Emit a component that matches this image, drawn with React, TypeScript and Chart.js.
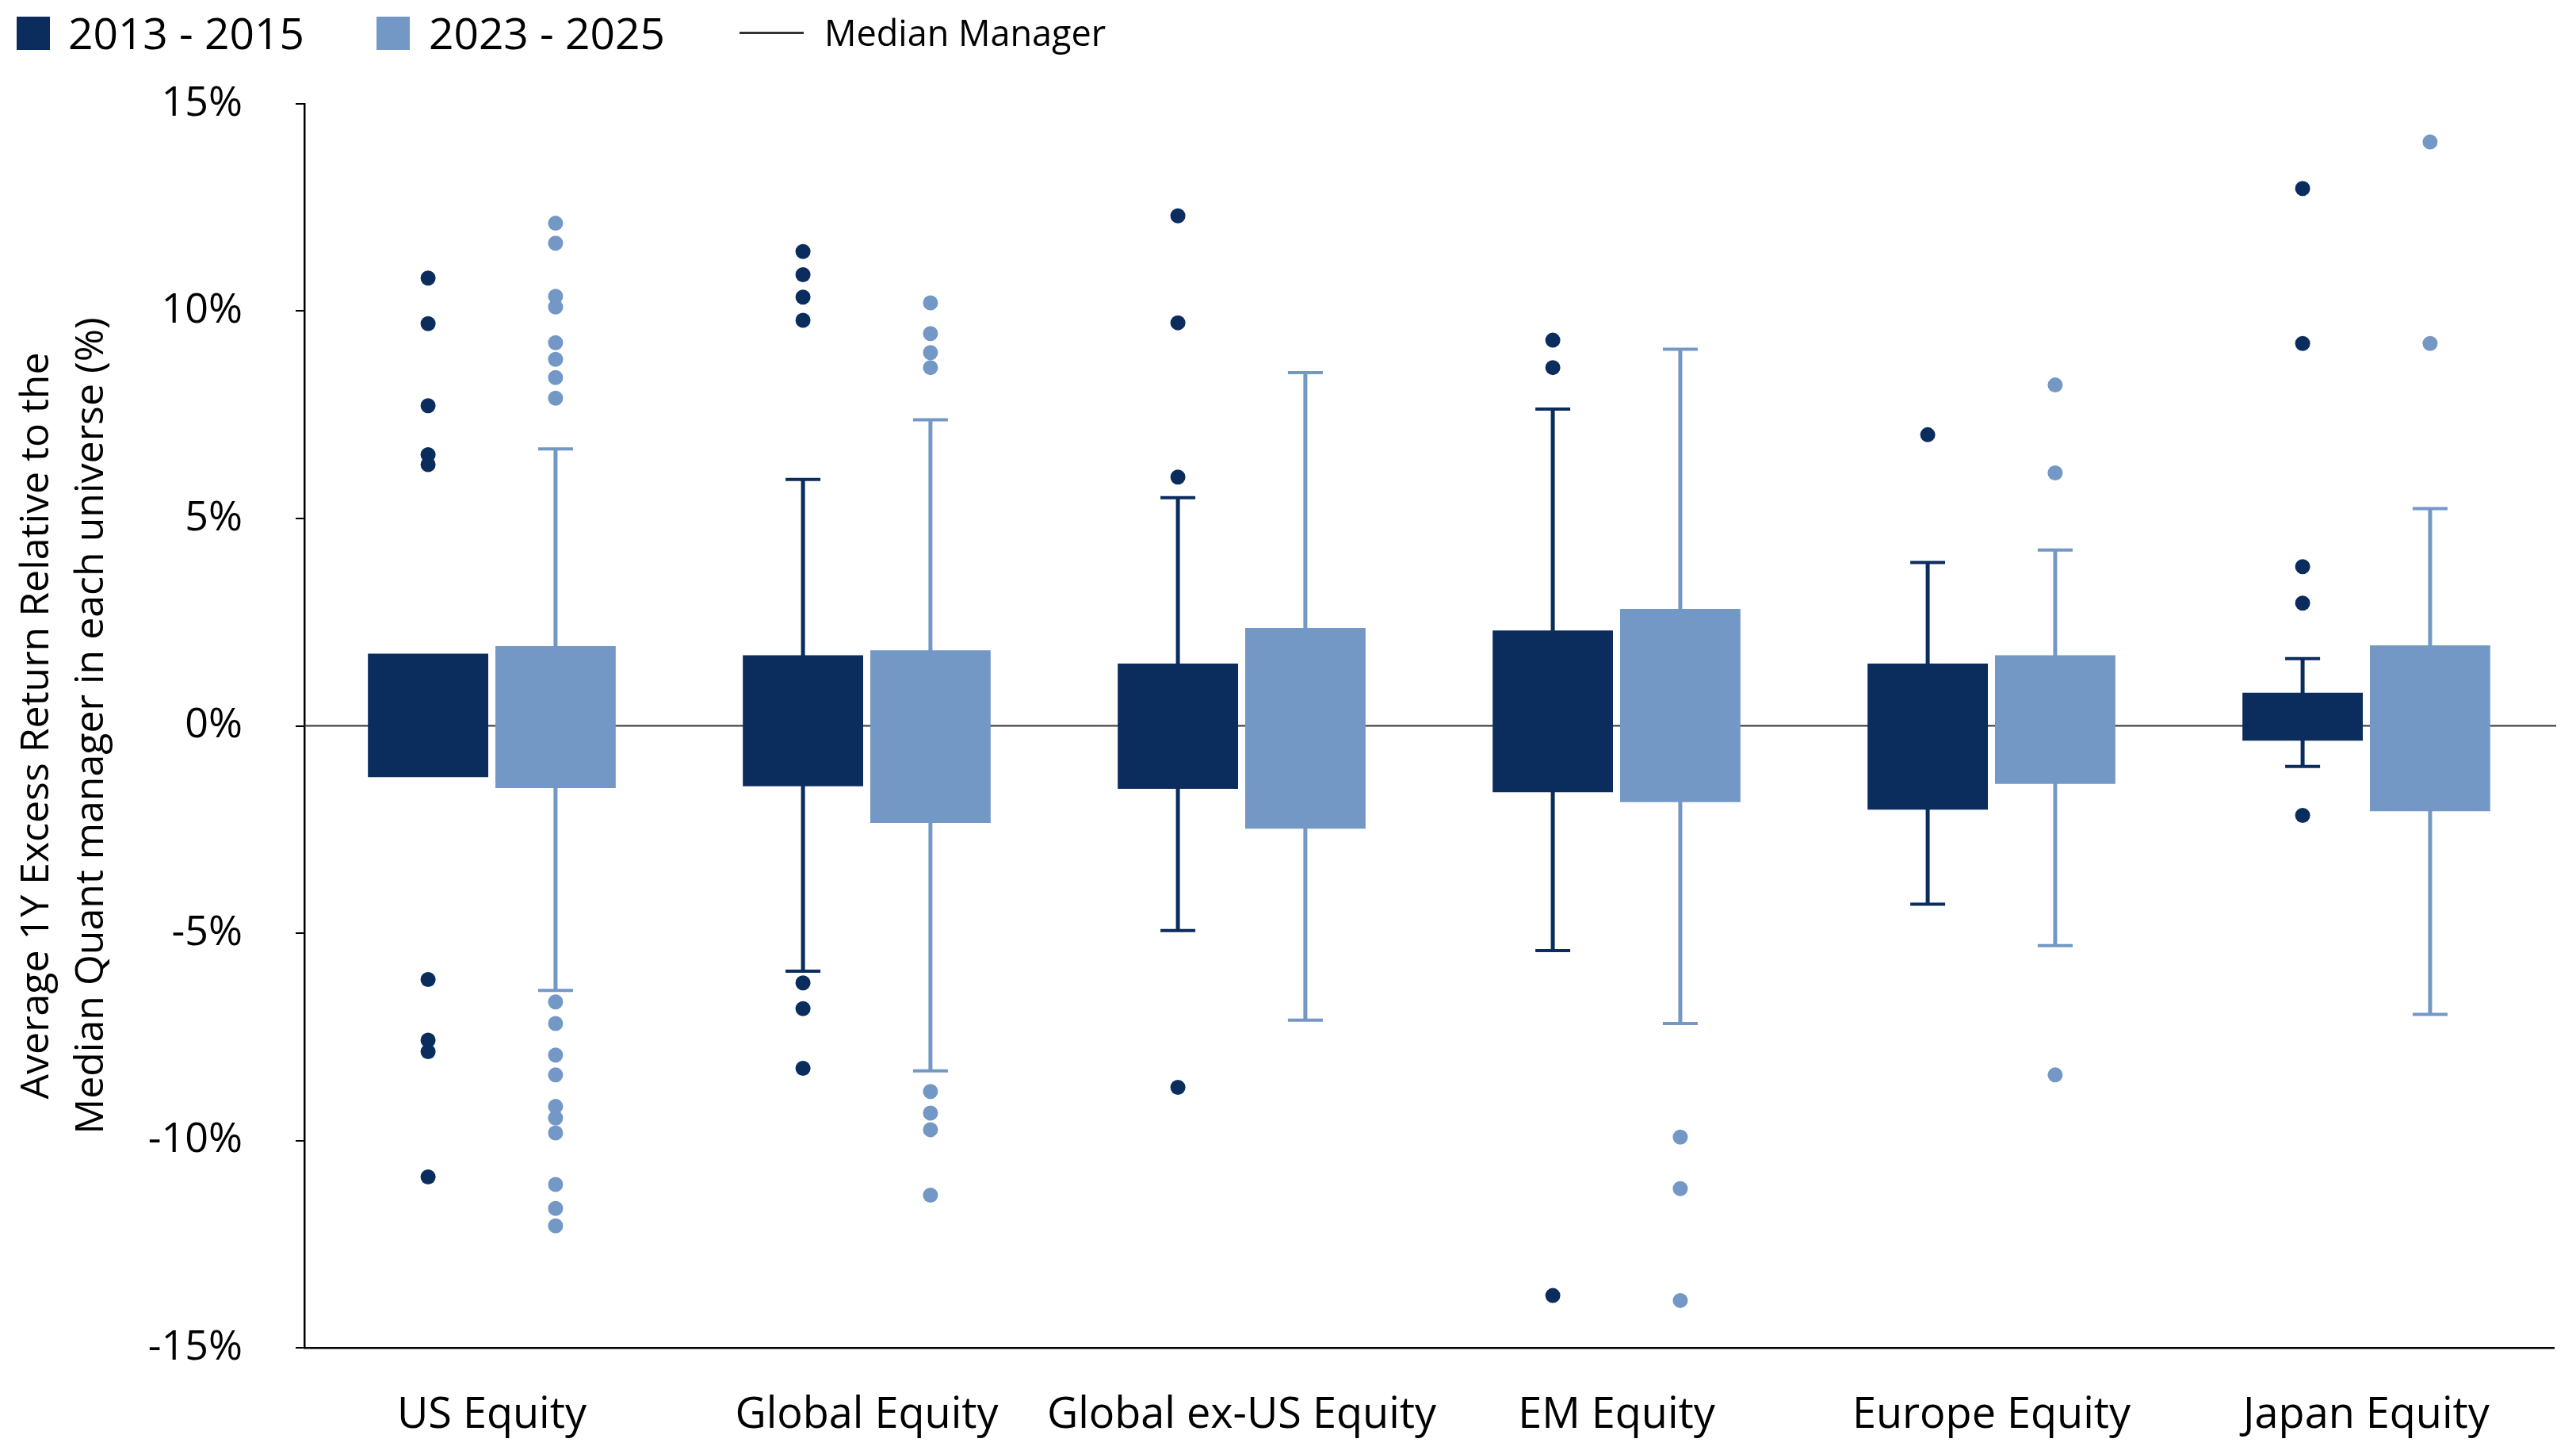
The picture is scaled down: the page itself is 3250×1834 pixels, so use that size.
import React, { useEffect, useRef } from "react";
import { Chart, registerables } from "chart.js";

Chart.register(...registerables);

const categories = [
  "US Equity",
  "Global Equity",
  "Global ex-US Equity",
  "EM Equity",
  "Europe Equity",
  "Japan Equity",
];

const seriesNames = ["2013 - 2015", "2023 - 2025"];
const seriesColors = ["#0B2D5E", "#7398C5"];

// Box (25th -> 75th percentile)
const box2013: [number, number][] = [
  [-1.24, 1.74],
  [-1.46, 1.7],
  [-1.52, 1.5],
  [-1.6, 2.3],
  [-2.02, 1.5],
  [-0.36, 0.8],
];
const box2023: [number, number][] = [
  [-1.5, 1.92],
  [-2.34, 1.82],
  [-2.48, 2.36],
  [-1.84, 2.82],
  [-1.4, 1.7],
  [-2.06, 1.94],
];

// Whiskers
const whiskerLow2013 = [null, -5.92, -4.94, -5.42, -4.3, -0.98];
const whiskerHigh2013 = [null, 5.94, 5.5, 7.64, 3.94, 1.62];
const whiskerLow2023 = [-6.38, -8.32, -7.1, -7.18, -5.3, -6.96];
const whiskerHigh2023 = [6.68, 7.38, 8.52, 9.08, 4.24, 5.24];

// Outliers
const outliers2013 = [
  [10.8, 9.7, 7.72, 6.54, 6.3, -6.12, -7.58, -7.86, -10.88],
  [11.44, 10.88, 10.34, 9.78, -6.2, -6.82, -8.26],
  [12.3, 9.72, 6.0, -8.72],
  [9.3, 8.64, -13.74],
  [7.02],
  [12.96, 9.22, 3.84, 2.96, -2.16],
];
const outliers2023 = [
  [12.12, 11.64, 10.36, 10.1, 9.24, 8.84, 8.4, 7.9, -6.66, -7.18, -7.94, -8.42, -9.18, -9.46, -9.82, -11.06, -11.64, -12.06],
  [10.2, 9.46, 9.0, 8.64, -8.82, -9.34, -9.74, -11.32],
  [],
  [-9.92, -11.16, -13.86],
  [8.22, 6.1, -8.42],
  [14.08, 9.22],
];

const medianManager = 0;
const yTicks = [-15, -10, -5, 0, 5, 10, 15];

const FONT = "'Open Sans', 'Noto Sans', sans-serif";

const whiskerLows = [whiskerLow2013, whiskerLow2023];
const whiskerHighs = [whiskerHigh2013, whiskerHigh2023];
const outliers = [outliers2013, outliers2023];

const boxPlugin = {
  id: "boxPlugin",
  beforeDatasetsDraw(chart: any) {
    const { ctx, chartArea, scales } = chart;
    const y = scales.y;
    // Median manager line
    const y0 = y.getPixelForValue(medianManager);
    ctx.save();
    ctx.strokeStyle = "#333333";
    ctx.lineWidth = 2;
    ctx.beginPath();
    ctx.moveTo(chartArea.left, y0);
    ctx.lineTo(chartArea.right + 3, y0);
    ctx.stroke();
    // whiskers
    for (let d = 0; d < 2; d++) {
      const meta = chart.getDatasetMeta(d);
      ctx.strokeStyle = seriesColors[d];
      meta.data.forEach((el: any, i: number) => {
        const lo = whiskerLows[d][i];
        const hi = whiskerHighs[d][i];
        if (lo == null || hi == null) return;
        const x = el.x;
        const yl = y.getPixelForValue(lo);
        const yh = y.getPixelForValue(hi);
        ctx.lineWidth = 5;
        ctx.beginPath();
        ctx.moveTo(x, yl);
        ctx.lineTo(x, yh);
        ctx.stroke();
        ctx.lineWidth = 4;
        ctx.beginPath();
        ctx.moveTo(x - 22, yl);
        ctx.lineTo(x + 22, yl);
        ctx.moveTo(x - 22, yh);
        ctx.lineTo(x + 22, yh);
        ctx.stroke();
      });
    }
    ctx.restore();
  },
  afterDatasetsDraw(chart: any) {
    const { ctx, scales } = chart;
    const y = scales.y;
    ctx.save();
    for (let d = 0; d < 2; d++) {
      const meta = chart.getDatasetMeta(d);
      ctx.fillStyle = seriesColors[d];
      meta.data.forEach((el: any, i: number) => {
        (outliers[d][i] || []).forEach((v: number) => {
          ctx.beginPath();
          ctx.arc(el.x, y.getPixelForValue(v), 9.5, 0, Math.PI * 2);
          ctx.fill();
        });
      });
    }
    ctx.restore();
  },
};

export default function App() {
  const canvasRef = useRef<HTMLCanvasElement | null>(null);

  useEffect(() => {
    document.body.style.margin = "0";
    document.body.style.overflow = "hidden";
    const canvas = canvasRef.current;
    if (!canvas) return;
    const chart = new Chart(canvas, {
      type: "bar",
      data: {
        labels: categories,
        datasets: [
          {
            label: seriesNames[0],
            data: box2013 as any,
            backgroundColor: seriesColors[0],
            borderWidth: 0,
            categoryPercentage: 0.68,
            barPercentage: 0.944,
          },
          {
            label: seriesNames[1],
            data: box2023 as any,
            backgroundColor: seriesColors[1],
            borderWidth: 0,
            categoryPercentage: 0.68,
            barPercentage: 0.944,
          },
        ],
      },
      options: {
        animation: false,
        responsive: false,
        maintainAspectRatio: false,
        layout: { padding: { top: 131, right: 28, left: 0, bottom: 0 } },
        plugins: {
          legend: { display: false },
          tooltip: { enabled: false },
        },
        scales: {
          x: {
            type: "category",
            grid: { display: false },
            border: { display: true, color: "#000", width: 2.5 },
            ticks: {
              color: "#000",
              font: { family: FONT, size: 54 },
              padding: 45,
              maxRotation: 0,
              autoSkip: false,
            },
            afterFit: (scale: any) => {
              scale.height = 134;
            },
          },
          y: {
            min: -15,
            max: 15,
            afterBuildTicks: (scale: any) => {
              scale.ticks = yTicks.map((v) => ({ value: v }));
            },
            grid: {
              display: true,
              drawOnChartArea: false,
              drawTicks: true,
              tickLength: 11,
              color: "#000",
              lineWidth: 2,
            },
            border: { display: true, color: "#000", width: 2.5 },
            ticks: {
              color: "#000",
              font: { family: FONT, size: 52 },
              padding: 67,
              callback: (v: any) => `${v}%`,
            },
            title: {
              display: true,
              text: [
                "Average 1Y Excess Return Relative to the",
                "Median Quant manager in each universe (%)",
              ],
              color: "#000",
              font: { family: FONT, size: 50, lineHeight: 1.38 },
              padding: { top: 12, bottom: 0 },
            },
            afterFit: (scale: any) => {
              scale.width = 384;
            },
          },
        },
      },
      plugins: [boxPlugin],
    });
    return () => chart.destroy();
  }, []);

  const textStyle: React.CSSProperties = {
    position: "absolute",
    whiteSpace: "nowrap",
    color: "#000",
    fontFamily: FONT,
    lineHeight: "normal",
  };

  return (
    <div
      style={{
        position: "absolute",
        left: 0,
        top: 0,
        width: 3250,
        height: 1834,
        background: "#fff",
        overflow: "hidden",
      }}
    >
      <canvas ref={canvasRef} width={3250} height={1834} style={{ display: "block" }} />
      <div style={{ position: "absolute", left: 21, top: 21, width: 42, height: 42, background: seriesColors[0] }} />
      <div style={{ ...textStyle, left: 86, top: 3, fontSize: 55 }}>{seriesNames[0]}</div>
      <div style={{ position: "absolute", left: 475, top: 21, width: 42, height: 42, background: seriesColors[1] }} />
      <div style={{ ...textStyle, left: 541, top: 3, fontSize: 55 }}>{seriesNames[1]}</div>
      <div style={{ position: "absolute", left: 933, top: 40, width: 81, height: 3, background: "#333" }} />
      <div style={{ ...textStyle, left: 1040, top: 10, fontSize: 45 }}>Median Manager</div>
    </div>
  );
}
